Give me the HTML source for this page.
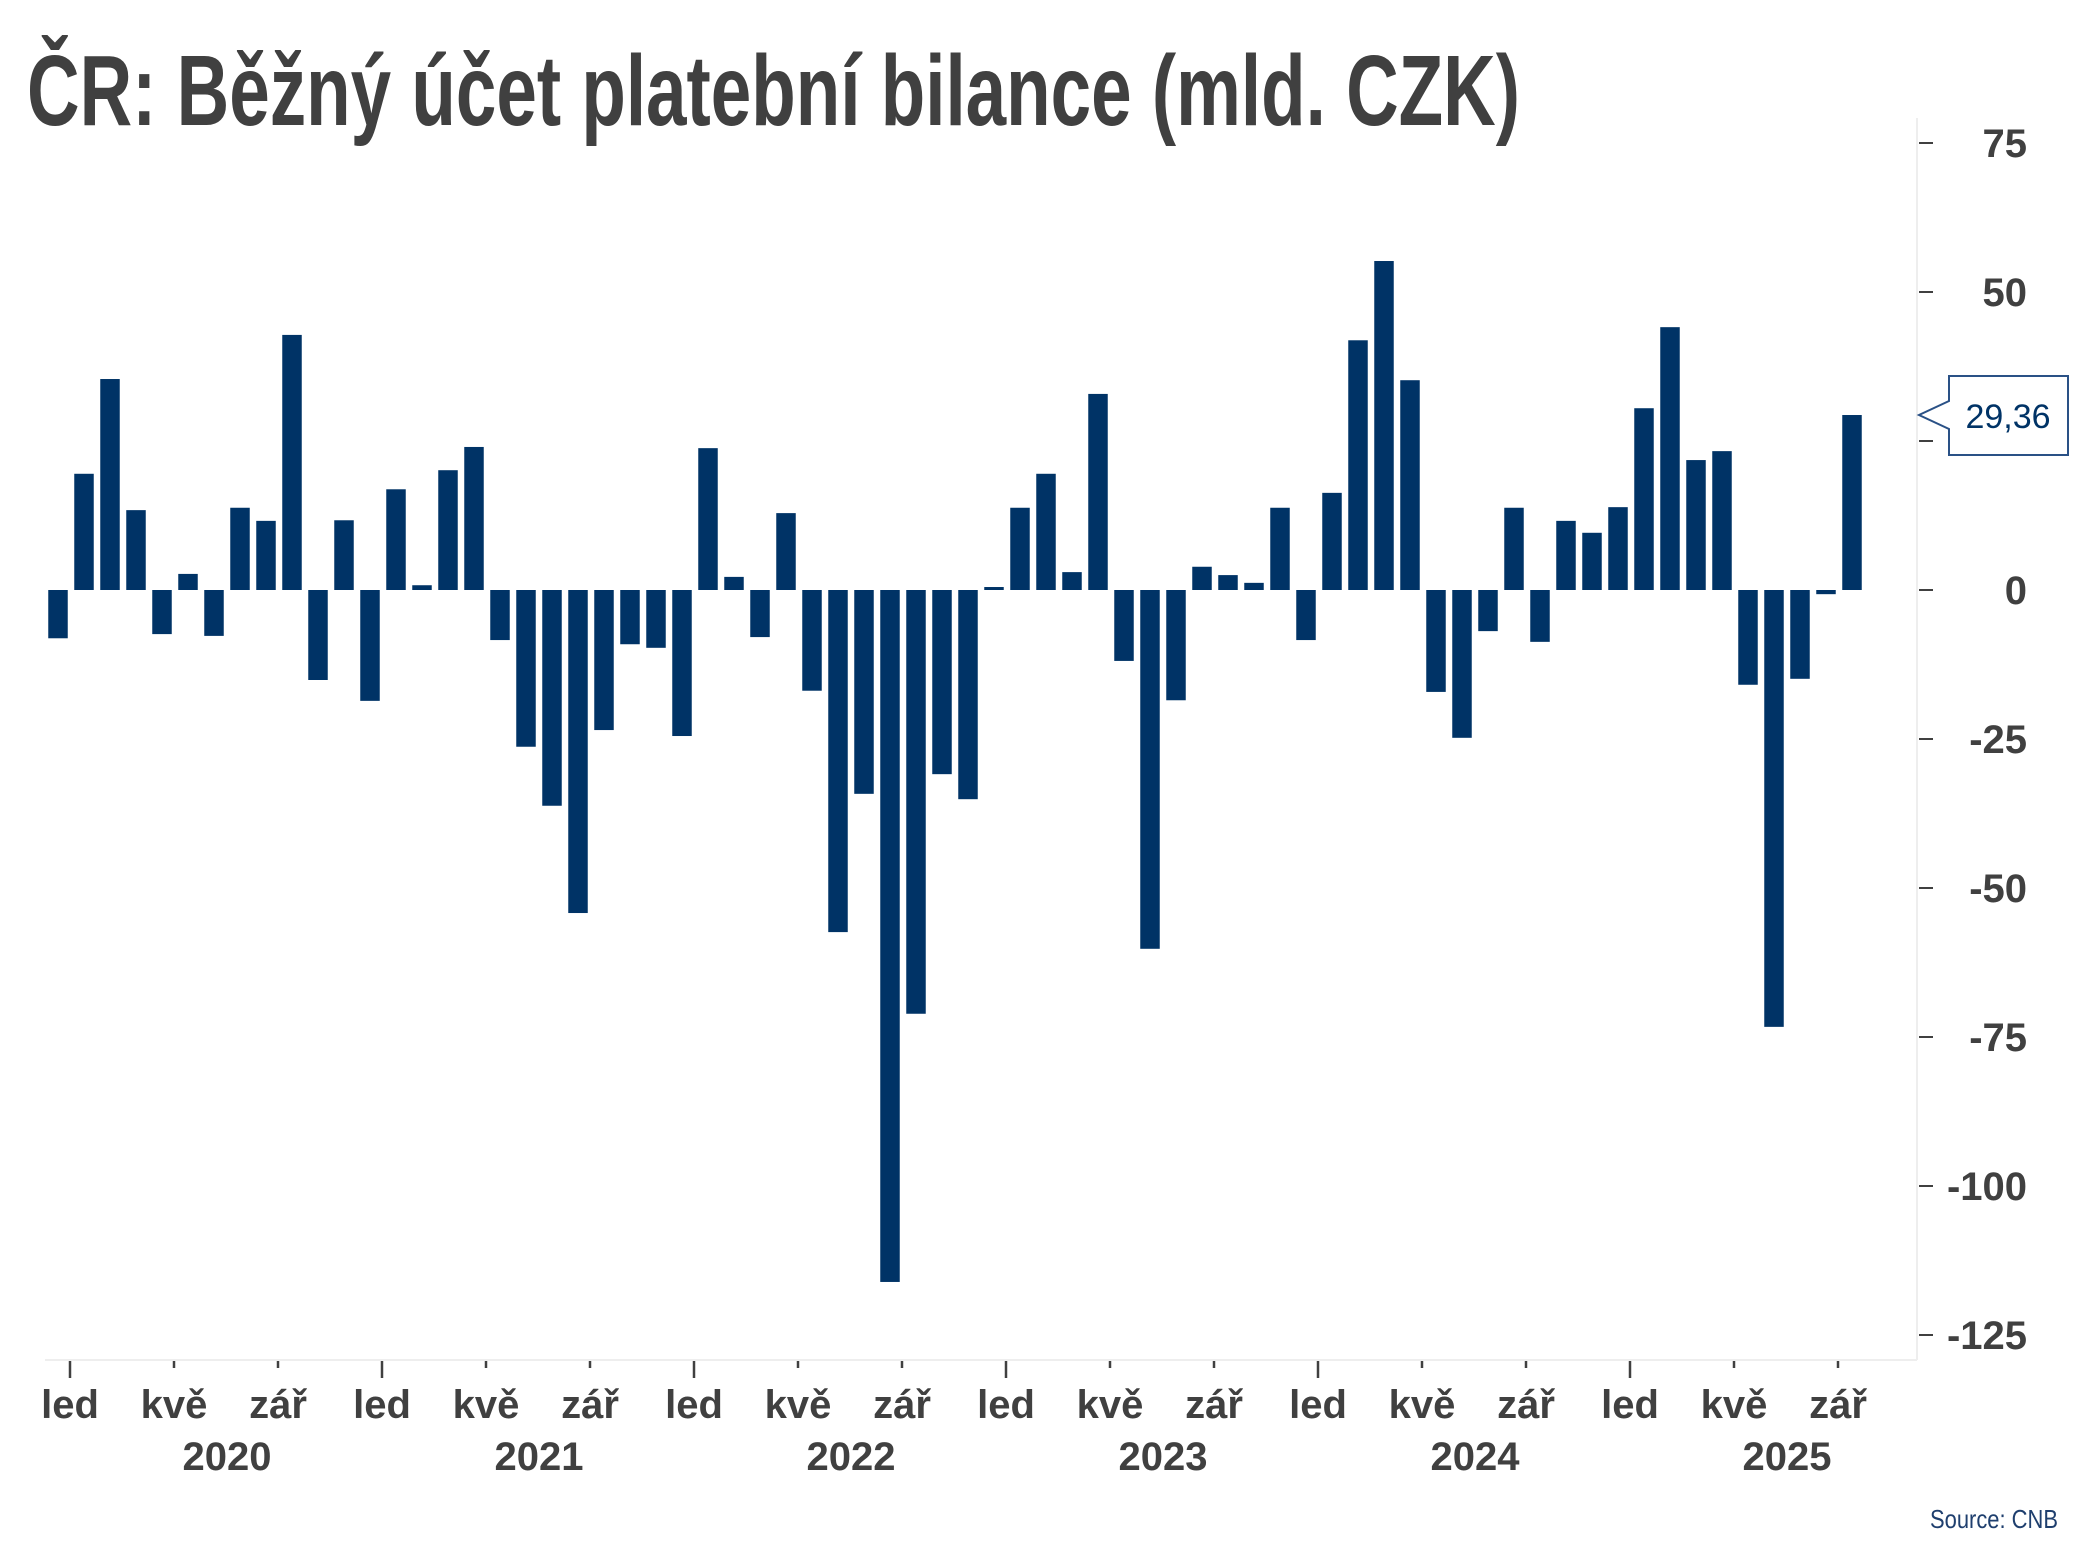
<!DOCTYPE html>
<html><head><meta charset="utf-8"><style>
html,body{margin:0;padding:0;background:#fff;}
svg{display:block;font-family:"Liberation Sans",sans-serif;}
</style></head><body>
<svg id="chart" width="2093" height="1568" viewBox="0 0 2093 1568">
<text x="27" y="125" font-size="100" font-weight="bold" fill="#404040" textLength="1493" lengthAdjust="spacingAndGlyphs">ČR: Běžný účet platební bilance (mld. CZK)</text>
<line x1="1917" y1="118" x2="1917" y2="1360" stroke="#eeeeee" stroke-width="2"/>
<line x1="45" y1="1360" x2="1917" y2="1360" stroke="#eeeeee" stroke-width="2"/>
<g id="bars"></g><g id="yticks"></g><g id="xticks"></g>
<g>
<path d="M1949,376 H2068 V455 H1949 V429 L1919,415 L1949,401 Z" fill="#fff" stroke="#2a5186" stroke-width="2"/>
<text x="2008" y="428" font-size="34" fill="#003366" text-anchor="middle">29,36</text>
</g>
<text x="1930" y="1528" font-size="26" fill="#1f3f6e" textLength="128" lengthAdjust="spacingAndGlyphs">Source: CNB</text>
</svg>
<script>
const values = [-8.1,19.5,35.4,13.4,-7.4,2.7,-7.7,13.8,11.6,42.8,-15.1,11.7,
-18.6,16.9,0.8,20.1,24.0,-8.4,-26.3,-36.2,-54.2,-23.5,-9.1,-9.7,
-24.5,23.8,2.2,-7.9,12.9,-16.9,-57.4,-34.2,-116.1,-71.1,-30.9,-35.1,
0.5,13.8,19.5,3.0,32.9,-11.9,-60.2,-18.5,3.9,2.5,1.2,13.8,
-8.4,16.3,41.9,55.2,35.2,-17.1,-24.8,-6.9,13.8,-8.7,11.6,9.6,
13.9,30.5,44.1,21.8,23.3,-15.9,-73.3,-14.9,-0.7,29.36];
const yTicks = [75,50,25,0,-25,-50,-75,-100,-125];
const monthLabels = ["led","kvě","zář"];
const years = ["2020","2021","2022","2023","2024","2025"];
const NS="http://www.w3.org/2000/svg";
const y = v => 590 - 5.96*v;
const xBar = i => 58 + 26*i;
const xTick = m => 70 + 26*m;
const bars=document.getElementById('bars');
values.forEach((v,i)=>{
  const r=document.createElementNS(NS,'rect');
  r.setAttribute('x',xBar(i)-9.75);r.setAttribute('width',19.5);
  r.setAttribute('y',Math.min(y(v),y(0)));r.setAttribute('height',Math.max(Math.abs(y(v)-y(0)),1));
  r.setAttribute('fill','#003366');
  
  
  bars.appendChild(r);
});
const yt=document.getElementById('yticks');
yTicks.forEach(t=>{
  const l=document.createElementNS(NS,'line');
  l.setAttribute('x1',1919);l.setAttribute('x2',1933);l.setAttribute('y1',y(t));l.setAttribute('y2',y(t));
  l.setAttribute('stroke','#404040');l.setAttribute('stroke-width',2);
  
  
  yt.appendChild(l);
  const tx=document.createElementNS(NS,'text');
  tx.setAttribute('x',2027);tx.setAttribute('y',y(t)+14);tx.setAttribute('text-anchor','end');
  tx.setAttribute('font-size',40);tx.setAttribute('font-weight','bold');tx.setAttribute('fill','#404040');
  tx.textContent=t;
  
  
  yt.appendChild(tx);
});
const xt=document.getElementById('xticks');
years.forEach((yr,k)=>{
  monthLabels.forEach((ml,j)=>{
    const m=k*12+j*4;
    const l=document.createElementNS(NS,'line');
    l.setAttribute('x1',xTick(m));l.setAttribute('x2',xTick(m));l.setAttribute('y1',1361);l.setAttribute('y2',j===0?1378:1368);
    l.setAttribute('stroke','#404040');l.setAttribute('stroke-width',2.5);
    
    
    xt.appendChild(l);
    const tx=document.createElementNS(NS,'text');
    tx.setAttribute('x',xTick(m));tx.setAttribute('y',1418);tx.setAttribute('text-anchor','middle');
    tx.setAttribute('font-size',40);tx.setAttribute('font-weight','bold');tx.setAttribute('fill','#404040');
    tx.textContent=ml;
    
    
    xt.appendChild(tx);
  });
  const ty=document.createElementNS(NS,'text');
  ty.setAttribute('x',xTick(k*12)+157);ty.setAttribute('y',1470);ty.setAttribute('text-anchor','middle');
  ty.setAttribute('font-size',40);ty.setAttribute('font-weight','bold');ty.setAttribute('fill','#404040');
  ty.textContent=yr;
  
  
  xt.appendChild(ty);
});
</script>
</body></html>
